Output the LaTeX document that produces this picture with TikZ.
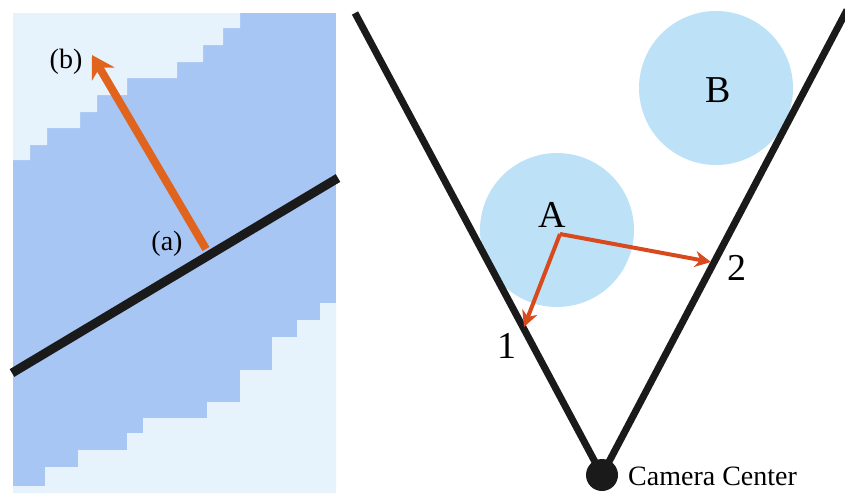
\documentclass[tikz,border=0pt]{standalone}
\usepackage{fontspec}
\setmainfont{Liberation Serif}
\usetikzlibrary{arrows.meta}
\definecolor{regblue}{HTML}{A8C6F4}
\definecolor{reglight}{HTML}{E6F3FC}
\definecolor{blobblue}{HTML}{BDE2F8}
\definecolor{arrorange}{HTML}{E0631E}
\definecolor{arrred}{HTML}{D84A1E}
\definecolor{inkblack}{HTML}{1A1A1A}
\begin{document}
\begin{tikzpicture}[x=1pt,y=-1pt,
  lbl/.style={inner sep=0pt,font=\fontsize{28}{30}\selectfont},
  biglbl/.style={inner sep=0pt,font=\fontsize{38}{40}\selectfont},
  blob/.style={circle,fill=blobblue,draw=none,minimum size=154pt,inner sep=0pt},
  edgeline/.style={draw=inkblack,line width=7pt},
  normalarrow/.style={draw=arrred,line width=4pt,-{Stealth[length=16pt,width=16pt]}},
  bigarrow/.style={draw=arrorange,line width=8pt,-{Stealth[length=22pt,width=26pt]}}]
\useasboundingbox (0,0) rectangle (845,493);
% ---------- left panel ----------
\fill[regblue] (13,13) rectangle (336,493);
\fill[reglight] (13,13) -- (240,13) -- (240,28) -- (223,28) -- (223,45) -- (203,45)
  -- (203,62) -- (177,62) -- (177,78) -- (127,78) -- (127,95) -- (97,95) -- (97,112)
  -- (80,112) -- (80,128) -- (47,128) -- (47,145) -- (30,145) -- (30,160) -- (13,160) -- cycle;
\fill[reglight] (336,303) -- (320,303) -- (320,320) -- (297,320) -- (297,337) -- (272,337)
  -- (272,370) -- (240,370) -- (240,402) -- (207,402) -- (207,418) -- (143,418)
  -- (143,433) -- (127,433) -- (127,450) -- (78,450) -- (78,467) -- (45,467)
  -- (45,486) -- (13,486) -- (13,493) -- (336,493) -- cycle;
\coordinate (ls) at (12,373);
\coordinate (le) at (338,178);
\coordinate (pa) at (206,249);
\coordinate (pb) at (92,55);
\draw[draw=inkblack,line width=9pt] (ls) -- (le);
\draw[bigarrow] (pa) -- (pb);
\node[lbl] (lb) at (66,62) {(b)};
\node[lbl] (la) at (167,244) {(a)};
% ---------- right panel ----------
\node[blob] (cb) at (716,88) {};
\node[blob] (ca) at (557,230) {};
\node[biglbl,anchor=base] (tb) at (718,102) {B};
\node[biglbl,anchor=base] (ta) at (552,227) {A};
\coordinate (vl) at (355,13);
\coordinate (vr) at (847,10);
\node[circle,fill=inkblack,minimum size=32pt,inner sep=0pt] (cam) at (602,475) {};
\draw[edgeline] (vl) -- (cam.center) -- (vr);
\coordinate (o) at (560,234);
\coordinate (p1) at (524,327);
\coordinate (p2) at (711,262);
\draw[normalarrow] (o) -- (p1);
\draw[normalarrow] (o) -- (p2);
\node[biglbl,anchor=base] (n1) at (507,358) {1};
\node[biglbl,anchor=base] (n2) at (737,280) {2};
\node[lbl,anchor=base west] (camlbl) at (628,485) {Camera Center};
\end{tikzpicture}
\end{document}
